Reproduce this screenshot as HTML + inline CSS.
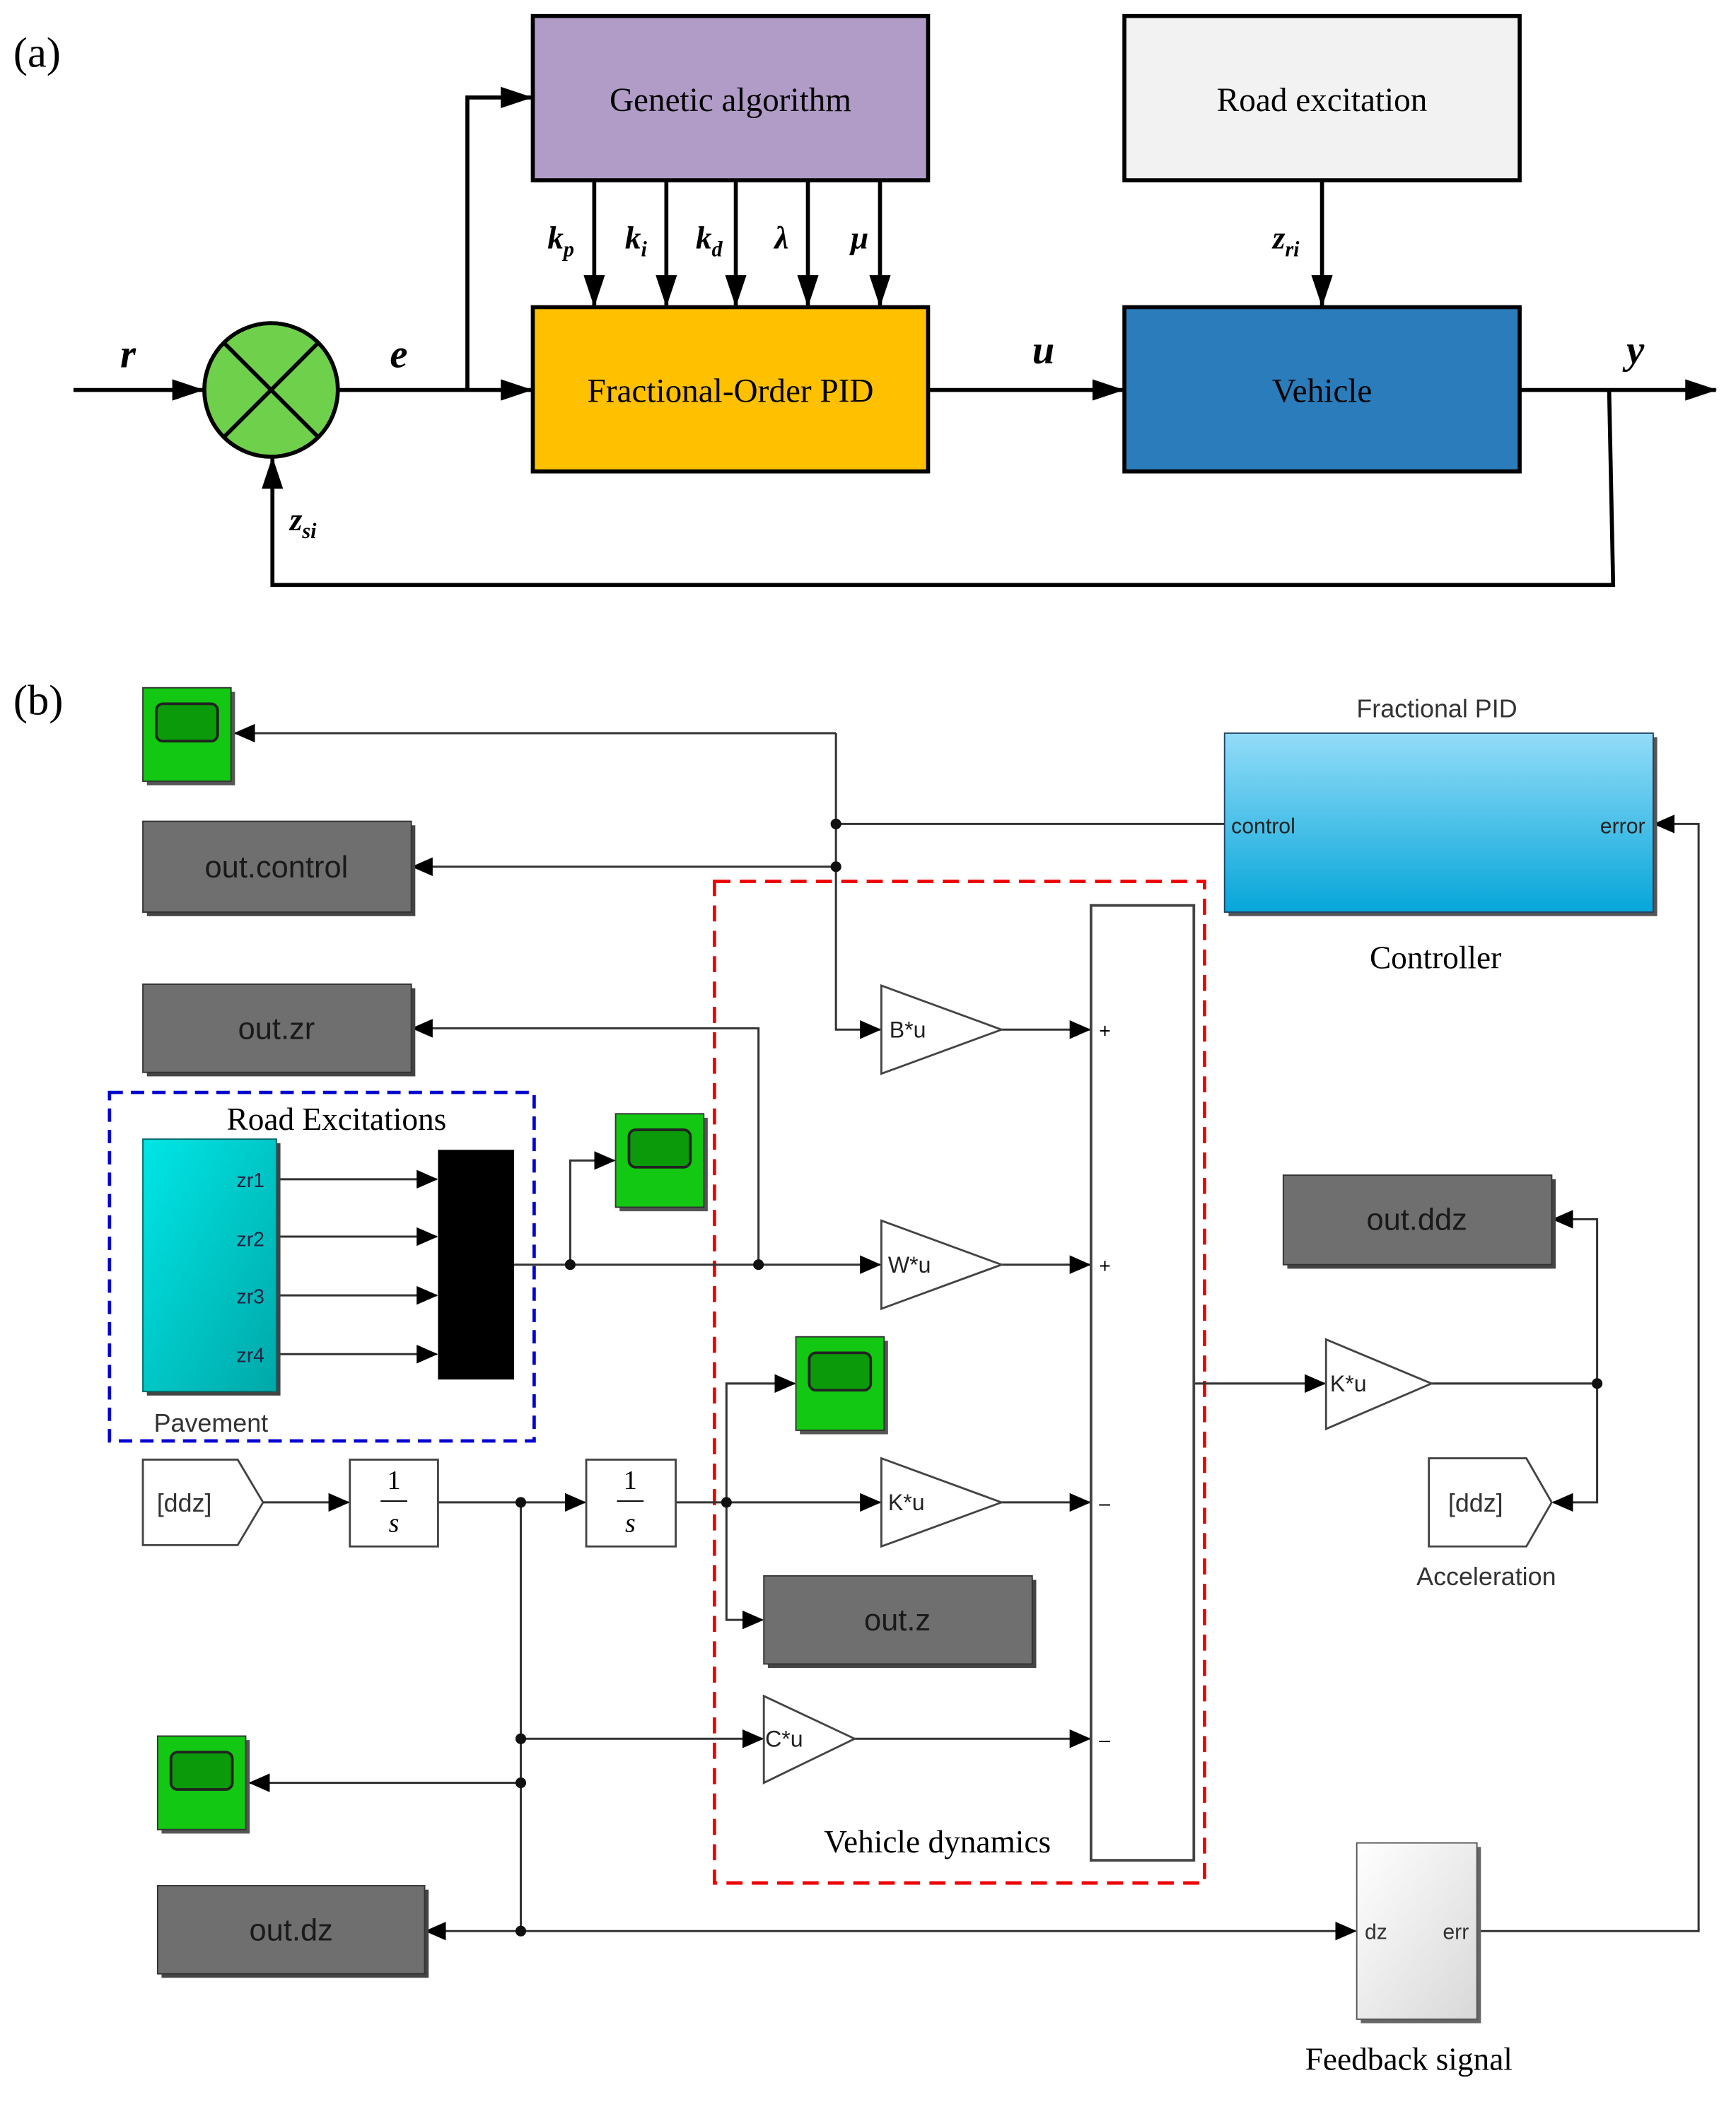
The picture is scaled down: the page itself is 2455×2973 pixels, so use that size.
<!DOCTYPE html>
<html><head><meta charset="utf-8"><style>
html,body{margin:0;padding:0;background:#fff}
svg{display:block}
.s{font-family:"Liberation Serif",serif}
.a{font-family:"Liberation Sans",sans-serif}
</style></head><body>
<svg width="2455" height="2973" viewBox="0 0 1300 1574" preserveAspectRatio="none" xmlns="http://www.w3.org/2000/svg">
<defs>
<marker id="ar" markerWidth="10" markerHeight="10" refX="9" refY="5" orient="auto" markerUnits="userSpaceOnUse"><path d="M0,0 L10,5 L0,10 z" fill="#000"/></marker>
<marker id="ab" markerWidth="24" markerHeight="16" refX="23" refY="8" orient="auto" markerUnits="userSpaceOnUse"><path d="M0,0 L24,8 L0,16 z" fill="#000"/></marker>
<marker id="am" markerWidth="16" markerHeight="14" refX="15" refY="7" orient="auto" markerUnits="userSpaceOnUse"><path d="M0,0 L16,7 L0,14 z" fill="#000"/></marker>
<linearGradient id="cb" x1="0" y1="0" x2="0" y2="1"><stop offset="0" stop-color="#93dcf8"/><stop offset="1" stop-color="#06a6d9"/></linearGradient>
<linearGradient id="cy" x1="0" y1="0" x2="1" y2="1"><stop offset="0" stop-color="#00e6e6"/><stop offset="1" stop-color="#00a8a8"/></linearGradient>
<linearGradient id="fb" x1="0" y1="0" x2="1" y2="1"><stop offset="0" stop-color="#ffffff"/><stop offset="1" stop-color="#d8d8d8"/></linearGradient>
<g id="scope"><rect x="3" y="3" width="66" height="70" fill="#555"/><rect x="0" y="0" width="66" height="70" fill="#12c812" stroke="#333" stroke-width="1"/><rect x="10" y="12" width="46" height="28" rx="5" fill="#0a9a0a" stroke="#222" stroke-width="2"/></g>
</defs>

<!-- (a) -->
<text x="10" y="50" class="s" font-size="32">(a)</text>
<rect x="399" y="12" width="296" height="123" fill="#b19cc7" stroke="#000" stroke-width="3"/>
<text x="547" y="83" class="s" font-size="25" text-anchor="middle">Genetic algorithm</text>
<rect x="842" y="12" width="296" height="123" fill="#f2f2f2" stroke="#000" stroke-width="3"/>
<text x="990" y="83" class="s" font-size="25" text-anchor="middle">Road excitation</text>
<rect x="399" y="230" width="296" height="123" fill="#ffc000" stroke="#000" stroke-width="3"/>
<text x="547" y="301" class="s" font-size="25" text-anchor="middle">Fractional-Order PID</text>
<rect x="842" y="230" width="296" height="123" fill="#2a7cba" stroke="#000" stroke-width="3"/>
<text x="990" y="301" class="s" font-size="25" text-anchor="middle">Vehicle</text>
<circle cx="203" cy="292" r="50" fill="#6fd04c" stroke="#000" stroke-width="3"/>
<line x1="168" y1="257" x2="238" y2="327" stroke="#000" stroke-width="3"/>
<line x1="238" y1="257" x2="168" y2="327" stroke="#000" stroke-width="3"/>
<g stroke="#000" stroke-width="3" fill="none">
<line x1="55" y1="292" x2="152" y2="292" marker-end="url(#ab)"/>
<line x1="253" y1="292" x2="398" y2="292" marker-end="url(#ab)"/>
<polyline points="350,292 350,73 398,73" marker-end="url(#ab)"/>
<line x1="445" y1="135" x2="445" y2="229" marker-end="url(#ab)"/>
<line x1="499" y1="135" x2="499" y2="229" marker-end="url(#ab)"/>
<line x1="551" y1="135" x2="551" y2="229" marker-end="url(#ab)"/>
<line x1="605" y1="135" x2="605" y2="229" marker-end="url(#ab)"/>
<line x1="659" y1="135" x2="659" y2="229" marker-end="url(#ab)"/>
<line x1="695" y1="292" x2="841" y2="292" marker-end="url(#ab)"/>
<line x1="990" y1="135" x2="990" y2="229" marker-end="url(#ab)"/>
<line x1="1138" y1="292" x2="1285" y2="292" marker-end="url(#ab)"/>
<polyline points="1205,292 1208,438 204,438 204,343" marker-end="url(#ab)"/>
</g>
<g class="s" font-style="italic" font-weight="bold" font-size="30">
<text x="90" y="275">r</text><text x="292" y="275">e</text><text x="773" y="272">u</text><text x="1218" y="272">y</text>
</g>
<g class="s" font-style="italic" font-weight="bold" font-size="24">
<text x="410" y="186">k<tspan font-size="16" dy="6">p</tspan></text>
<text x="468" y="186">k<tspan font-size="16" dy="6">i</tspan></text>
<text x="521" y="186">k<tspan font-size="16" dy="6">d</tspan></text>
<text x="580" y="186">λ</text><text x="637" y="186">μ</text>
<text x="953" y="186">z<tspan font-size="16" dy="6">ri</tspan></text>
<text x="217" y="397">z<tspan font-size="16" dy="6">si</tspan></text>
</g>

<!-- (b) -->
<text x="10" y="535" class="s" font-size="32">(b)</text>
<!-- red dashed -->
<rect x="535" y="660" width="367" height="750" fill="none" stroke="#e00" stroke-width="2.5" stroke-dasharray="12,7"/>
<rect x="82" y="818" width="318" height="261" fill="none" stroke="#0000d0" stroke-width="2.5" stroke-dasharray="10,6"/>

<!-- wires -->
<g stroke="#333" stroke-width="1.6" fill="none">
<polyline points="917,617 626,617"/>
<polyline points="626,549 626,771 659,771" marker-end="url(#am)"/>
<line x1="626" y1="549" x2="176" y2="549" marker-end="url(#am)"/>
<line x1="626" y1="649" x2="309" y2="649" marker-end="url(#am)"/>
<line x1="750" y1="771" x2="816" y2="771" marker-end="url(#am)"/>
<polyline points="568,947 568,770 309,770" marker-end="url(#am)"/>
<line x1="385" y1="947" x2="659" y2="947" marker-end="url(#am)"/>
<polyline points="427,947 427,869 460,869" marker-end="url(#am)"/>
<line x1="750" y1="947" x2="816" y2="947" marker-end="url(#am)"/>
<line x1="207" y1="883" x2="327" y2="883" marker-end="url(#am)"/>
<line x1="207" y1="926" x2="327" y2="926" marker-end="url(#am)"/>
<line x1="207" y1="970" x2="327" y2="970" marker-end="url(#am)"/>
<line x1="207" y1="1014" x2="327" y2="1014" marker-end="url(#am)"/>
<line x1="894" y1="1036" x2="992" y2="1036" marker-end="url(#am)"/>
<line x1="1072" y1="1036" x2="1196" y2="1036"/>
<polyline points="1196,1036 1196,913 1163,913" marker-end="url(#am)"/>
<polyline points="1196,1036 1196,1125 1163,1125" marker-end="url(#am)"/>
<line x1="197" y1="1125" x2="261" y2="1125" marker-end="url(#am)"/>
<line x1="328" y1="1125" x2="438" y2="1125" marker-end="url(#am)"/>
<line x1="506" y1="1125" x2="659" y2="1125" marker-end="url(#am)"/>
<line x1="750" y1="1125" x2="816" y2="1125" marker-end="url(#am)"/>
<polyline points="544,1125 544,1036 595,1036" marker-end="url(#am)"/>
<polyline points="544,1125 544,1213 571,1213" marker-end="url(#am)"/>
<line x1="390" y1="1125" x2="390" y2="1446"/>
<line x1="390" y1="1302" x2="571" y2="1302" marker-end="url(#am)"/>
<line x1="640" y1="1302" x2="816" y2="1302" marker-end="url(#am)"/>
<line x1="390" y1="1335" x2="187" y2="1335" marker-end="url(#am)"/>
<line x1="390" y1="1446" x2="319" y2="1446" marker-end="url(#am)"/>
<line x1="390" y1="1446" x2="1015" y2="1446" marker-end="url(#am)"/>
<polyline points="1106,1446 1272,1446 1272,617 1239,617" marker-end="url(#am)"/>
</g>
<g fill="#111">
<circle cx="626" cy="617" r="4"/><circle cx="626" cy="649" r="4"/>
<circle cx="427" cy="947" r="4"/><circle cx="568" cy="947" r="4"/>
<circle cx="1196" cy="1036" r="4"/><circle cx="390" cy="1125" r="4"/><circle cx="544" cy="1125" r="4"/>
<circle cx="390" cy="1302" r="4"/><circle cx="390" cy="1335" r="4"/><circle cx="390" cy="1446" r="4"/>
</g>

<!-- scopes -->
<use href="#scope" x="107" y="515"/>
<use href="#scope" x="461" y="834"/>
<use href="#scope" x="596" y="1001"/>
<use href="#scope" x="118" y="1300"/>

<!-- gray blocks -->
<g>
<rect x="110" y="618" width="201" height="68" fill="#444"/><rect x="107" y="615" width="201" height="68" fill="#6f6f6f" stroke="#333"/>
<rect x="110" y="740" width="201" height="66" fill="#444"/><rect x="107" y="737" width="201" height="66" fill="#6f6f6f" stroke="#333"/>
<rect x="964" y="883" width="201" height="67" fill="#444"/><rect x="961" y="880" width="201" height="67" fill="#6f6f6f" stroke="#333"/>
<rect x="575" y="1183" width="201" height="66" fill="#444"/><rect x="572" y="1180" width="201" height="66" fill="#6f6f6f" stroke="#333"/>
<rect x="121" y="1415" width="200" height="66" fill="#444"/><rect x="118" y="1412" width="200" height="66" fill="#6f6f6f" stroke="#333"/>
</g>
<g class="a" font-size="23" fill="#1a1a1a" text-anchor="middle">
<text x="207" y="657">out.control</text><text x="207" y="778">out.zr</text><text x="1061" y="921">out.ddz</text><text x="672" y="1221">out.z</text><text x="218" y="1453">out.dz</text>
</g>

<!-- controller -->
<rect x="920" y="552" width="321" height="134" fill="#555"/>
<rect x="917" y="549" width="321" height="134" fill="url(#cb)" stroke="#246"/>
<text x="1076" y="537" class="a" font-size="19" text-anchor="middle" fill="#333">Fractional PID</text>
<text x="922" y="624" class="a" font-size="16" fill="#222">control</text>
<text x="1232" y="624" class="a" font-size="16" fill="#222" text-anchor="end">error</text>
<text x="1075" y="725" class="s" font-size="24" text-anchor="middle">Controller</text>

<!-- sum -->
<rect x="817" y="678" width="77" height="715" fill="#fff" stroke="#444" stroke-width="2"/>
<g class="a" font-size="15"><text x="823" y="777">+</text><text x="823" y="953">+</text><text x="823" y="1131">–</text><text x="823" y="1308">–</text></g>

<!-- gains -->
<g fill="#fff" stroke="#444" stroke-width="1.5">
<polygon points="660,738 750,771 660,804"/><polygon points="660,914 750,947 660,980"/>
<polygon points="660,1092 750,1125 660,1158"/><polygon points="572,1270 640,1302 572,1335"/>
<polygon points="993,1003 1072,1036 993,1070"/>
</g>
<g class="a" font-size="17" fill="#222">
<text x="666" y="777">B*u</text><text x="665" y="953">W*u</text><text x="665" y="1131">K*u</text><text x="573" y="1308">C*u</text><text x="996" y="1042">K*u</text>
</g>

<!-- road excitations -->
<text x="252" y="846" class="s" font-size="24" text-anchor="middle">Road Excitations</text>
<rect x="110" y="856" width="100" height="189" fill="#444"/>
<rect x="107" y="853" width="100" height="189" fill="url(#cy)" stroke="#066"/>
<g class="a" font-size="15" fill="#224" text-anchor="end">
<text x="198" y="889">zr1</text><text x="198" y="933">zr2</text><text x="198" y="976">zr3</text><text x="198" y="1020">zr4</text>
</g>
<text x="158" y="1072" class="a" font-size="19" text-anchor="middle" fill="#333">Pavement</text>
<rect x="328" y="861" width="57" height="172" fill="#000"/>

<!-- integrators -->
<g fill="#fff" stroke="#444" stroke-width="1.5">
<rect x="262" y="1093" width="66" height="65"/><rect x="439" y="1093" width="67" height="65"/>
<polygon points="107,1093 178,1093 197,1125 178,1157 107,1157"/>
<polygon points="1070,1092 1143,1092 1162,1125 1143,1158 1070,1158"/>
</g>
<g class="s" font-size="20" text-anchor="middle">
<text x="295" y="1115">1</text><line x1="285" y1="1124" x2="305" y2="1124" stroke="#000"/><text x="295" y="1147" font-style="italic">s</text>
<text x="472" y="1115">1</text><line x1="462" y1="1124" x2="482" y2="1124" stroke="#000"/><text x="472" y="1147" font-style="italic">s</text>
</g>
<text x="138" y="1132" class="a" font-size="19" text-anchor="middle" fill="#333">[ddz]</text>
<text x="1105" y="1132" class="a" font-size="19" text-anchor="middle" fill="#333">[ddz]</text>
<text x="1113" y="1187" class="a" font-size="19" text-anchor="middle" fill="#333">Acceleration</text>

<!-- feedback -->
<rect x="1019" y="1383" width="90" height="132" fill="#666"/>
<rect x="1016" y="1380" width="90" height="132" fill="url(#fb)" stroke="#555"/>
<text x="1022" y="1452" class="a" font-size="16" fill="#333">dz</text>
<text x="1100" y="1452" class="a" font-size="16" fill="#333" text-anchor="end">err</text>
<text x="1055" y="1550" class="s" font-size="24" text-anchor="middle">Feedback signal</text>
<text x="702" y="1387" class="s" font-size="24" text-anchor="middle">Vehicle dynamics</text>
</svg>
</body></html>
